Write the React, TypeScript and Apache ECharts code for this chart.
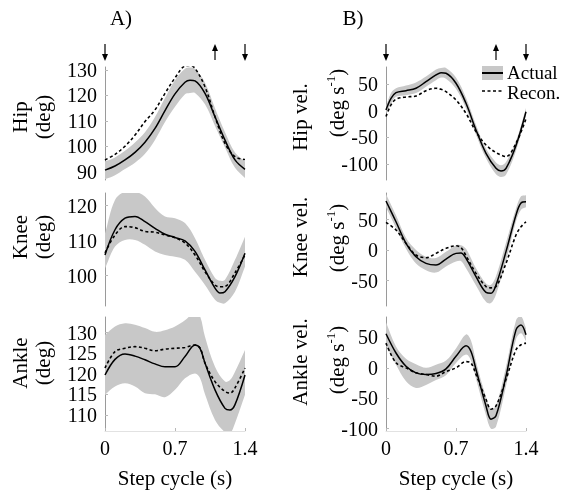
import React, { useEffect, useRef } from "react";
import * as echarts from "echarts";

const FONT = "'Liberation Serif', 'Times New Roman', serif";
const BAND = "#c8c8c8";
const SMOOTH = 0.35;

// ---- Data ----
const X_TICKS = [0, 0.7, 1.4];
const EVENT_T = [0, 1.1, 1.4];
const EVENT_DIR = ["down", "up", "down"];

const T_HIP = [0, 0.1, 0.2, 0.3, 0.4, 0.5, 0.6, 0.7, 0.8, 0.85, 0.9, 1.0, 1.1, 1.2, 1.3, 1.4];
const HIP_MEAN = [90.6, 92.2, 94.6, 97.6, 101.6, 107.0, 114.0, 120.6, 125.2, 126.0, 125.7, 120.8, 111.6, 102.4, 94.6, 90.9];
const HIP_RECON = [94.6, 96.8, 100.0, 104.4, 109.7, 114.3, 120.8, 126.9, 131.6, 131.8, 130.7, 123.4, 111.6, 101.1, 95.9, 94.8];
const HIP_UPPER = [94, 95.6, 98.2, 101.5, 105.5, 111.5, 119, 126, 130.5, 131, 130.5, 125, 115, 105.5, 97.5, 94];
const HIP_LOWER = [87, 88.6, 91, 93.5, 97, 102.5, 109.5, 115.5, 120.5, 121, 121, 116.5, 108, 99.5, 91.5, 87.5];
const HIP_TICKS = [90, 100, 110, 120, 130];

const T_KNEE = [0, 0.1, 0.2, 0.3, 0.4, 0.5, 0.6, 0.7, 0.8, 0.9, 1.0, 1.1, 1.15, 1.2, 1.3, 1.4];
const KNEE_MEAN = [105.9, 113.1, 116.4, 116.9, 115.4, 113.5, 111.8, 110.9, 109.9, 106.9, 101.6, 96.4, 95.0, 95.4, 99.7, 106.4];
const KNEE_RECON = [106.5, 111.6, 114.0, 113.7, 112.6, 112.4, 111.6, 110.8, 109.3, 105.9, 101.1, 97.3, 96.8, 96.9, 100.8, 105.9];
const KNEE_UPPER = [112, 121.6, 124, 124, 122.6, 119.3, 116.9, 116.4, 115, 110.7, 104.5, 99.3, 98.5, 98.8, 104.5, 111.1];
const KNEE_LOWER = [102, 108.3, 110.2, 110.2, 108.8, 106.9, 105.9, 105.4, 104.5, 101.1, 97.3, 93.1, 92.2, 92.1, 95.4, 102.6];
const KNEE_TICKS = [100, 110, 120];

const T_ANKLE = [0, 0.1, 0.2, 0.3, 0.4, 0.5, 0.6, 0.7, 0.8, 0.9, 0.95, 1.0, 1.1, 1.2, 1.25, 1.3, 1.4];
const ANKLE_MEAN = [119.7, 123.5, 124.8, 124.3, 123.4, 122.4, 121.7, 121.7, 124.2, 127.0, 126.2, 122.6, 116.1, 111.6, 111.2, 112.5, 119.7];
const ANKLE_RECON = [121.4, 125.4, 126.2, 126.6, 126.2, 125.6, 126.0, 126.2, 126.4, 127.0, 126.3, 122.6, 118.1, 115.7, 115.3, 116.6, 121.4];
const ANKLE_UPPER = [129.4, 131.5, 132.3, 131.9, 131.1, 130.2, 130.6, 131.5, 133.0, 135.0, 134.0, 129.0, 121.7, 118.1, 118.5, 120.5, 125.8];
const ANKLE_LOWER = [114.9, 116.9, 117.7, 116.9, 115.3, 115.0, 114.3, 116.1, 118.9, 120.1, 119.0, 115.0, 108.8, 105.8, 105.5, 108.0, 114.9];
const ANKLE_TICKS = [110, 115, 120, 125, 130];

const T_HIPV = [0, 0.05, 0.1, 0.2, 0.3, 0.4, 0.5, 0.55, 0.6, 0.7, 0.8, 0.9, 1.0, 1.1, 1.15, 1.2, 1.3, 1.4];
const HIPV_MEAN = [1.3, 23, 33.7, 37.5, 42, 54.3, 66.9, 71.2, 70, 51.3, 13.8, -36, -79.8, -107.9, -113, -108, -65, -1.9];
const HIPV_RECON = [-11, 10.7, 21.3, 25.7, 27.5, 37.5, 42, 40, 35.6, 20, -5, -39.3, -64.2, -78.6, -83, -86, -61, -15];
const HIPV_UPPER = [8, 33, 42, 47, 53, 64, 77, 80, 80, 62, 24, -27, -71, -97, -102, -96, -57, 5];
const HIPV_LOWER = [-5, 13, 26, 29, 33, 45, 57, 62, 60, 41, 4, -45, -89, -119, -124, -120, -75, -9];
const HIPV_TICKS = [-100, -50, 0, 50];

const T_KNEEV = [0, 0.1, 0.2, 0.3, 0.4, 0.5, 0.6, 0.7, 0.75, 0.8, 0.9, 1.0, 1.05, 1.1, 1.2, 1.3, 1.35, 1.4];
const KNEEV_MEAN = [80.4, 46.4, 11, -11, -21.9, -24.6, -14.8, -5.5, -5, -13.7, -43.7, -69.5, -71, -57.4, -2.7, 57.4, 77, 79];
const KNEEV_RECON = [45.4, 32.8, 11, -8.2, -12.6, -5.5, 2.7, 7, 4, -9.3, -38.3, -60, -62, -60, -21.9, 24.6, 38, 46.4];
const KNEEV_UPPER = [92, 57, 20, 0, -11, -13, -3, 8, 8, 2, -30, -55, -57, -43, 12, 68, 88, 90];
const KNEEV_LOWER = [70, 36, 2, -22, -33, -37, -27, -19, -18, -30, -58, -85, -87, -73, -18, 47, 66, 70];
const KNEEV_TICKS = [-50, 0, 50];

const T_ANKLEV = [0, 0.1, 0.2, 0.3, 0.4, 0.5, 0.6, 0.7, 0.8, 0.85, 0.9, 1.0, 1.05, 1.1, 1.2, 1.3, 1.35, 1.4];
const ANKLEV_MEAN = [56, 24.4, 2.6, -8.2, -10.9, -9.3, -1.6, 18.9, 36.3, 27, -2.8, -62.6, -84.3, -78.9, -13.7, 62.4, 70.6, 54.3];
const ANKLEV_RECON = [40.7, 8.2, 0, -8.2, -10.9, -13.7, -6, 0, 10.3, 8, -10.9, -51.7, -68, -62.6, -19, 29.8, 38, 40.7];
const ANKLEV_UPPER = [75, 35, 15, 6, 0, 5, 12, 32, 55, 45, 10, -48, -68, -62, 2, 78, 85, 65];
const ANKLEV_LOWER = [37, 5, -22, -33, -28, -20, -12, 8, 22, 12, -18, -78, -100, -97, -30, 47, 57, 44];
const ANKLEV_TICKS = [-100, -50, 0, 50];

type Panel = {
  t: number[]; mean: number[]; recon: number[]; upper: number[]; lower: number[];
  ticks: number[]; min: number; max: number;
  left: number; top: number; height: number; bottom: boolean;
};

const COL_L = 105, COL_R = 386, PW = 140;
const ROWS = [{ top: 67, height: 113 }, { top: 193, height: 113 }, { top: 317, height: 114 }];

const PANELS: Panel[] = [
  { t: T_HIP, mean: HIP_MEAN, recon: HIP_RECON, upper: HIP_UPPER, lower: HIP_LOWER, ticks: HIP_TICKS, min: 86.7, max: 131.2, left: COL_L, ...ROWS[0], bottom: false },
  { t: T_KNEE, mean: KNEE_MEAN, recon: KNEE_RECON, upper: KNEE_UPPER, lower: KNEE_LOWER, ticks: KNEE_TICKS, min: 91.3, max: 123.6, left: COL_L, ...ROWS[1], bottom: false },
  { t: T_ANKLE, mean: ANKLE_MEAN, recon: ANKLE_RECON, upper: ANKLE_UPPER, lower: ANKLE_LOWER, ticks: ANKLE_TICKS, min: 106.1, max: 133.8, left: COL_L, ...ROWS[2], bottom: true },
  { t: T_HIPV, mean: HIPV_MEAN, recon: HIPV_RECON, upper: HIPV_UPPER, lower: HIPV_LOWER, ticks: HIPV_TICKS, min: -129.8, max: 81.8, left: COL_R, ...ROWS[0], bottom: false },
  { t: T_KNEEV, mean: KNEEV_MEAN, recon: KNEEV_RECON, upper: KNEEV_UPPER, lower: KNEEV_LOWER, ticks: KNEEV_TICKS, min: -91.8, max: 93.5, left: COL_R, ...ROWS[1], bottom: false },
  { t: T_ANKLEV, mean: ANKLEV_MEAN, recon: ANKLEV_RECON, upper: ANKLEV_UPPER, lower: ANKLEV_LOWER, ticks: ANKLEV_TICKS, min: -103.8, max: 83.6, left: COL_R, ...ROWS[2], bottom: true },
];

function controls(pts: number[][], i: number, s: number) {
  const p = pts[i];
  const prev = pts[i - 1] || p;
  const next = pts[i + 1] || p;
  const vx = next[0] - prev[0], vy = next[1] - prev[1];
  const l0 = Math.hypot(p[0] - prev[0], p[1] - prev[1]);
  const l1 = Math.hypot(next[0] - p[0], next[1] - p[1]);
  const r = l0 + l1 > 0 ? l1 / (l0 + l1) : 0.5;
  return {
    c0: [p[0] - vx * s * (1 - r), p[1] - vy * s * (1 - r)],
    c1: [p[0] + vx * s * r, p[1] + vy * s * r],
  };
}

function smoothPath(pts: number[][], s: number, move: boolean) {
  let d = (move ? "M" : "L") + pts[0][0] + " " + pts[0][1];
  for (let i = 0; i < pts.length - 1; i++) {
    const a = controls(pts, i, s).c1;
    const b = controls(pts, i + 1, s).c0;
    const q = pts[i + 1];
    d += ` C${a[0]} ${a[1]} ${b[0]} ${b[1]} ${q[0]} ${q[1]}`;
  }
  return d;
}

const textStyle = { fontFamily: FONT, color: "#000" };

function txt(text: string, x: number, y: number, rot = 0, extra: any = {}, size = 21) {
  return {
    type: "text", x, y, rotation: rot, silent: true,
    style: { text, fill: "#000", font: `${size}px ${FONT}`, align: "center", verticalAlign: "middle", ...extra },
  };
}

function supTxt(x: number, y: number) {
  return {
    type: "text", x, y, rotation: Math.PI / 2, silent: true,
    style: {
      text: "{a|(deg s}{s|-1}{a|)}", fill: "#000", align: "center", verticalAlign: "middle",
      rich: {
        a: { fontFamily: FONT, fontSize: 21, lineHeight: 26, fill: "#000" },
        s: { fontFamily: FONT, fontSize: 13, lineHeight: 14, verticalAlign: "top", fill: "#000" },
      },
    },
  };
}

export default function App() {
  const ref = useRef<HTMLDivElement>(null);
  useEffect(() => {
    const chart = echarts.init(ref.current!, null, { renderer: "svg" });
    const grid = PANELS.map((p) => ({ left: p.left, top: p.top, width: PW, height: p.height }));
    const xAxis = PANELS.map((p, i) => ({
      gridIndex: i, type: "value", min: 0, max: 1.4, show: p.bottom,
      axisLine: { show: true, onZero: false, lineStyle: { color: "#e2e2e2", width: 1 } },
      axisTick: { show: true, inside: true, length: 3, lineStyle: { color: "#b8b8b8" }, customValues: X_TICKS },
      axisLabel: { show: true, customValues: X_TICKS, formatter: (v: number) => String(v), fontSize: 20, margin: 7, ...textStyle },
      splitLine: { show: false },
      name: "Step cycle (s)", nameLocation: "middle", nameGap: 36,
      nameTextStyle: { fontSize: 21, ...textStyle },
    }));
    const yAxis = PANELS.map((p, i) => ({
      gridIndex: i, type: "value", min: p.min, max: p.max,
      axisLine: { show: true, onZero: false, lineStyle: { color: "#9a9a9a", width: 1 } },
      axisTick: { show: true, inside: true, length: 3, lineStyle: { color: "#b8b8b8" }, customValues: p.ticks },
      axisLabel: { show: true, customValues: p.ticks, fontSize: 20, margin: 8, ...textStyle },
      splitLine: { show: false },
    }));
    const series: any[] = [];
    PANELS.forEach((p, i) => {
      series.push({
        type: "custom", xAxisIndex: i, yAxisIndex: i, clip: true, silent: true, z: 1,
        data: [[p.t[0], p.mean[0]]],
        renderItem: (_params: any, api: any) => {
          const up = p.t.map((x, k) => api.coord([x, p.upper[k]]));
          const lo = p.t.map((x, k) => api.coord([x, p.lower[k]])).reverse();
          const d = smoothPath(up, SMOOTH, true) + " " + smoothPath(lo, SMOOTH, false) + " Z";
          return { type: "path", shape: { pathData: d }, style: { fill: BAND, stroke: "none" } };
        },
      });
      series.push({
        type: "line", name: "Actual", xAxisIndex: i, yAxisIndex: i, z: 3, smooth: SMOOTH,
        symbol: "none", silent: true,
        data: p.t.map((x, k) => [x, p.mean[k]]),
        lineStyle: { color: "#000", width: 1.5 },
      });
      series.push({
        type: "line", name: "Recon.", xAxisIndex: i, yAxisIndex: i, z: 4, smooth: SMOOTH,
        symbol: "none", silent: true,
        data: p.t.map((x, k) => [x, p.recon[k]]),
        lineStyle: { color: "#000", width: 1.6, type: [3, 2.5] },
      });
    });

    chart.setOption({ animation: false, grid, xAxis, yAxis, series });

    const graphics: any[] = [
      txt("A)", 121, 18),
      txt("B)", 353, 18),
      txt("Hip", 20, 117, Math.PI / 2),
      txt("(deg)", 43, 117, Math.PI / 2),
      txt("Knee", 20, 237, Math.PI / 2),
      txt("(deg)", 43, 237, Math.PI / 2),
      txt("Ankle", 20, 363, Math.PI / 2),
      txt("(deg)", 43, 363, Math.PI / 2),
      txt("Hip vel.", 300, 117, Math.PI / 2),
      supTxt(337, 103),
      txt("Knee vel.", 300, 237, Math.PI / 2),
      supTxt(337, 238),
      txt("Ankle vel.", 300, 362, Math.PI / 2),
      supTxt(337, 360),
      // legend
      { type: "rect", shape: { x: 482, y: 66, width: 21, height: 14 }, style: { fill: BAND }, silent: true },
      { type: "line", shape: { x1: 482, y1: 73, x2: 503, y2: 73 }, style: { stroke: "#000", lineWidth: 2 }, silent: true },
      { type: "line", shape: { x1: 482, y1: 91, x2: 503, y2: 91 }, style: { stroke: "#000", lineWidth: 1.6, lineDash: [3, 2.5] }, silent: true },
      txt("Actual", 507, 72, 0, { align: "left" }, 19),
      txt("Recon.", 507, 92, 0, { align: "left" }, 19),
    ];
    [0, 3].forEach((gi) => {
      EVENT_T.forEach((t, k) => {
        const px = chart.convertToPixel({ gridIndex: gi } as any, [t, PANELS[gi].max]) as number[];
        const x = Math.round(px[0]);
        if (EVENT_DIR[k] === "down") {
          graphics.push({ type: "line", shape: { x1: x, y1: 44, x2: x, y2: 56 }, style: { stroke: "#000", lineWidth: 1.2 }, silent: true });
          graphics.push({ type: "polygon", shape: { points: [[x - 3, 54], [x + 3, 54], [x, 61]] }, style: { fill: "#000" }, silent: true });
        } else {
          graphics.push({ type: "line", shape: { x1: x, y1: 49, x2: x, y2: 60 }, style: { stroke: "#000", lineWidth: 1.2 }, silent: true });
          graphics.push({ type: "polygon", shape: { points: [[x - 3, 51], [x + 3, 51], [x, 44]] }, style: { fill: "#000" }, silent: true });
        }
      });
    });
    chart.setOption({ graphic: graphics });
    return () => chart.dispose();
  }, []);
  return <div ref={ref} style={{ position: "fixed", left: 0, top: 0, width: 567, height: 493 }} />;
}
